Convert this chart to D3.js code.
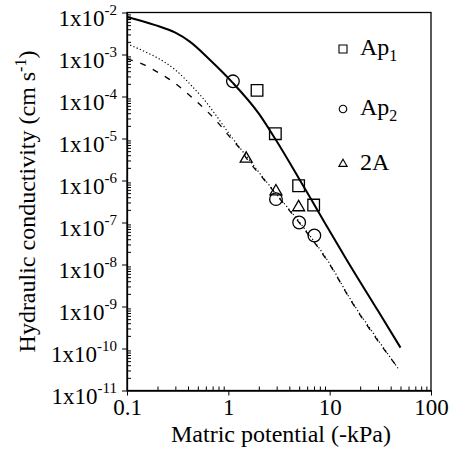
<!DOCTYPE html>
<html>
<head>
<meta charset="utf-8">
<script src="https://cdn.jsdelivr.net/npm/d3@7"></script>
<style>
  body { margin: 0; background: #fff; }
  svg { font-family: "Liberation Serif", "Times New Roman", serif; }
</style>
</head>
<body>
<svg width="453" height="459"></svg>
<script>
// fitted curves (matric potential in -kPa, K in cm/s)
const solidX = [0.1, 0.19, 0.3, 0.42, 0.66, 1.09, 2.0, 2.91, 4.94, 8.4, 15, 30, 50];
const solidK = [7.8e-3, 5.0e-3, 3.3e-3, 2.0e-3, 7.4e-4, 2.2e-4, 3.9e-5, 9.7e-6, 1.15e-6, 1.28e-7, 1.2e-8, 7.9e-10, 1.05e-10];

const dottedX = [0.1, 0.15, 0.2, 0.3, 0.44, 0.57, 0.7, 1.0, 1.47, 2.15, 3.0, 5.3, 10, 16, 30, 48];
const dottedK = [1.8e-3, 1.17e-3, 8.3e-4, 4.3e-4, 1.74e-4, 8.7e-5, 4.6e-5, 1.38e-5, 4.1e-6, 1.26e-6, 4.7e-7, 8.7e-8, 1.05e-8, 1.5e-9, 1.6e-10, 3.2e-11];

const dashedX = [0.1, 0.15, 0.2, 0.28, 0.37, 0.48, 0.62, 0.8, 1.0, 1.26, 1.6, 2.15, 3.0, 5.3, 10, 16, 30, 48];
const dashedK = [7.9e-4, 5.6e-4, 3.8e-4, 2.3e-4, 1.35e-4, 7.8e-5, 4.4e-5, 2.3e-5, 1.2e-5, 6.3e-6, 2.8e-6, 1.2e-6, 4.5e-7, 8.3e-8, 1.0e-8, 1.45e-9, 1.5e-10, 3.3e-11];

// measured points
const ap1X = [1.92, 2.91, 4.94, 6.95];
const ap1K = [1.4e-4, 1.3e-5, 7.5e-7, 2.6e-7];
const ap2X = [1.11, 2.95, 5.0, 7.06];
const ap2K = [2.3e-4, 3.6e-7, 1.0e-7, 4.9e-8];
const a2X = [1.5, 2.95, 4.94];
const a2K = [3.3e-6, 5.5e-7, 2.3e-7];

const xTicks = [0.1, 1, 10, 100];
const xTickLabels = ["0.1", "1", "10", "100"];
const yExponents = [-2, -3, -4, -5, -6, -7, -8, -9, -10, -11];
const legendNames = [["Ap", "1"], ["Ap", "2"], ["2A", ""]];

const svg = d3.select("svg");
const plot = { left: 127, right: 431, top: 12.5, bottom: 390.5 };

const x = d3.scaleLog().domain([0.1, 100]).range([plot.left, plot.right]);
const y = d3.scaleLog().domain([1e-11, 1e-2]).range([plot.bottom, plot.top]);

// minor ticks
const xMinor = [];
for (let d = 0.1; d < 100; d *= 10) for (let k = 2; k <= 9; k++) xMinor.push(+(d * k).toPrecision(3));
const yMinor = [];
yExponents.slice(1).forEach(e => { for (let k = 2; k <= 9; k++) yMinor.push(k * Math.pow(10, e)); });

// frame
svg.append("rect")
    .attr("x", plot.left).attr("y", plot.top)
    .attr("width", plot.right - plot.left).attr("height", plot.bottom - plot.top)
    .attr("fill", "none").attr("stroke", "#000").attr("stroke-width", 1.3);

// x axis
svg.append("g")
    .attr("transform", `translate(0,${plot.bottom})`)
    .call(d3.axisBottom(x).tickValues(xMinor).tickSizeInner(-4).tickSizeOuter(0).tickFormat(""))
    .call(g => g.select(".domain").remove());
svg.append("g")
    .attr("transform", `translate(0,${plot.bottom})`)
    .call(d3.axisBottom(x).tickValues(xTicks).tickSizeInner(5).tickSizeOuter(0).tickPadding(3)
        .tickFormat((d, i) => xTickLabels[i]))
    .call(g => g.select(".domain").attr("stroke-width", 1.3))
    .call(g => g.selectAll("text").attr("font-family", "Liberation Serif").attr("font-size", 23).attr("fill", "#000"));

// y axis
svg.append("g")
    .attr("transform", `translate(${plot.left},0)`)
    .call(d3.axisLeft(y).tickValues(yMinor).tickSizeInner(-4).tickSizeOuter(0).tickFormat(""))
    .call(g => g.select(".domain").remove());
svg.append("g")
    .attr("transform", `translate(${plot.left},0)`)
    .call(d3.axisLeft(y).tickValues(yExponents.map(e => Math.pow(10, e))).tickSizeInner(5).tickSizeOuter(0).tickFormat(""))
    .call(g => g.select(".domain").attr("stroke-width", 1.3));

const yLab = svg.append("g").selectAll("text")
    .data(yExponents)
    .enter().append("text")
    .attr("x", 117)
    .attr("y", e => y(Math.pow(10, e)) + 13)
    .attr("text-anchor", "end")
    .attr("font-size", 23);
yLab.append("tspan").text("1x10");
yLab.append("tspan").attr("dy", -11).attr("font-size", 15).text(e => "-" + Math.abs(e));

// curves
const line = d3.line().x(d => x(d[0])).y(d => y(d[1])).curve(d3.curveMonotoneX);
svg.append("path").datum(d3.zip(solidX, solidK))
    .attr("d", line).attr("fill", "none").attr("stroke", "#000").attr("stroke-width", 2);
svg.append("path").datum(d3.zip(dottedX, dottedK))
    .attr("d", line).attr("fill", "none").attr("stroke", "#000").attr("stroke-width", 1.2)
    .attr("stroke-dasharray", "1.2,2.3");
svg.append("path").datum(d3.zip(dashedX, dashedK))
    .attr("d", line).attr("fill", "none").attr("stroke", "#000").attr("stroke-width", 1.3)
    .attr("stroke-dasharray", "6,8");

// markers
const sq = d3.symbol().type(d3.symbolSquare).size(135);
const ci = d3.symbol().type(d3.symbolCircle).size(125);
const tr = d3.symbol().type(d3.symbolTriangle).size(62);
const pts = [[ap1X, ap1K, sq], [ap2X, ap2K, ci], [a2X, a2K, tr]];
pts.forEach(([xs, ks, sym]) => {
    svg.append("g").selectAll("path")
        .data(d3.zip(xs, ks))
        .enter().append("path")
        .attr("transform", d => `translate(${x(d[0])},${y(d[1])})`)
        .attr("d", sym)
        .attr("fill", "none").attr("stroke", "#000").attr("stroke-width", 1.3);
});

// legend
const legSyms = [d3.symbol().type(d3.symbolSquare).size(64),
                 d3.symbol().type(d3.symbolCircle).size(45),
                 d3.symbol().type(d3.symbolTriangle).size(30)];
const legY = [49, 109, 164];
legendNames.forEach((n, i) => {
    svg.append("path")
        .attr("transform", `translate(343,${legY[i]})`)
        .attr("d", legSyms[i])
        .attr("fill", "none").attr("stroke", "#000").attr("stroke-width", 1.1);
    const t = svg.append("text").attr("x", 360).attr("y", legY[i] + 6).attr("font-size", 24);
    t.append("tspan").text(n[0]);
    if (n[1]) t.append("tspan").attr("dy", 6).attr("font-size", 16).text(n[1]);
});

// axis titles
svg.append("text")
    .attr("x", (plot.left + plot.right) / 2 + 2).attr("y", 442)
    .attr("text-anchor", "middle").attr("font-size", 24)
    .text("Matric potential (-kPa)");

const yt = svg.append("text")
    .attr("transform", `translate(35,${(plot.top + plot.bottom) / 2}) rotate(-90)`)
    .attr("text-anchor", "middle").attr("font-size", 24);
yt.append("tspan").text("Hydraulic conductivity (cm s");
yt.append("tspan").attr("dy", -9).attr("font-size", 16).text("-1");
yt.append("tspan").attr("dy", 9).text(")");
</script>
</body>
</html>
